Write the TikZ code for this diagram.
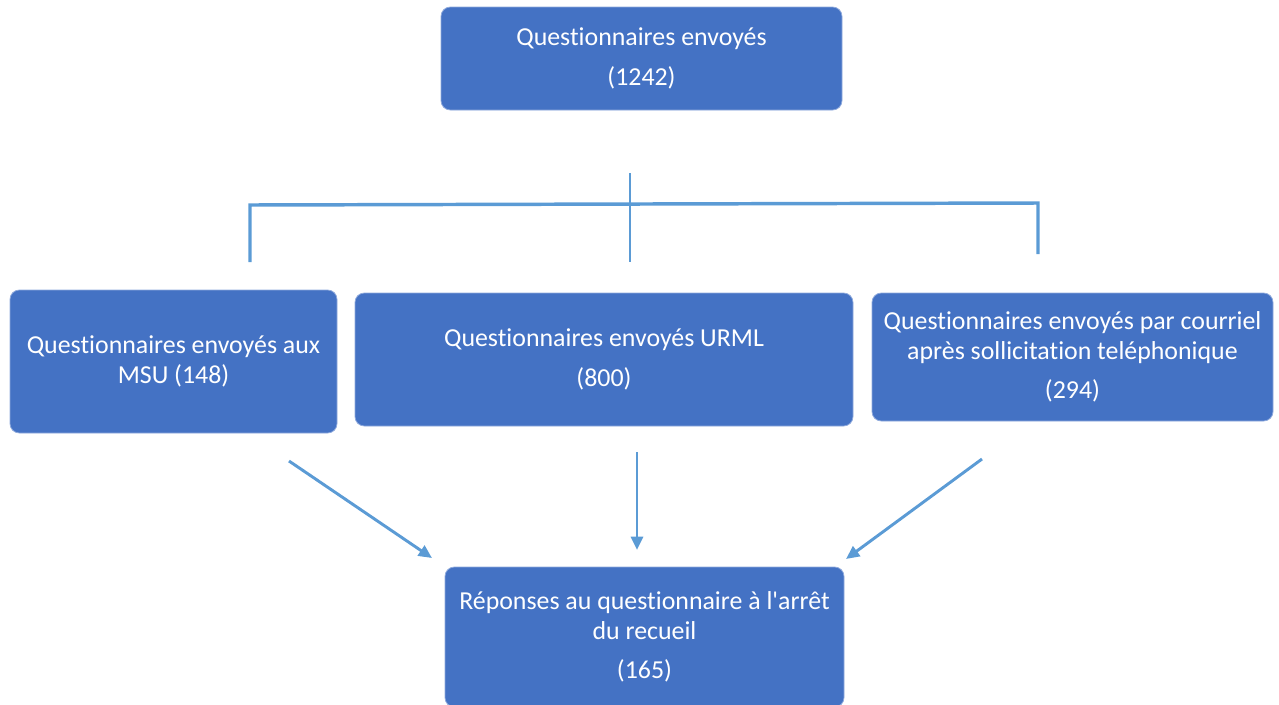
\documentclass[tikz,border=0pt]{standalone}
\usepackage{fontspec}
\setmainfont{Carlito}[Ligatures={NoCommon,TeXOff}]
\usetikzlibrary{arrows.meta}
\definecolor{boxblue}{HTML}{4472C4}
\definecolor{lineblue}{HTML}{5B9BD5}
\begin{document}
\begin{tikzpicture}[x=0.75pt,y=-0.75pt,
  box/.style={fill=boxblue, draw=boxblue!60!white, line width=0.6pt, rounded corners=7pt, text=white,
    align=center, inner sep=0pt, font=\fontsize{19.4}{22.5}\selectfont},
  link/.style={draw=lineblue, line width=2pt},
  arr/.style={draw=lineblue, line width=2.2pt, -{Triangle[length=10pt,width=9pt]}}]
\useasboundingbox (0,0) rectangle (1279,704);
\node[box, minimum width=300.75pt, minimum height=77.25pt] (top) at (641.5,58.5)
  {Questionnaires envoyés\\[7pt](1242)};
\node[box, minimum width=245.25pt, minimum height=107.25pt] (msu) at (173.5,361.5)
  {Questionnaires envoyés aux\\MSU (148)};
\node[box, minimum width=373.5pt, minimum height=99.75pt] (urml) at (604,359.5)
  {Questionnaires envoyés URML\\[8pt](800)};
\node[box, minimum width=300.75pt, minimum height=96pt] (mail) at (1072.5,357)
  {Questionnaires envoyés par courriel\\après sollicitation teléphonique\\[7pt](294)};
\node[box, minimum width=299.25pt, minimum height=105pt] (rep) at (644.5,637)
  {Réponses au questionnaire à l'arrêt\\du recueil\\[7pt](165)};
% bracket
\coordinate (ctop) at (630,173);
\coordinate (cmid) at (630,262);
\coordinate (hl) at (250,205);
\coordinate (hr) at (1038,203);
\coordinate (ll) at (250,262);
\coordinate (rl) at (1038,254);
\draw[link] (ctop) -- (cmid);
\draw[link, line width=2.6pt] (ll) -- (hl) -- (hr) -- (rl);
% arrows
\coordinate (a1s) at (289,461);
\coordinate (a1e) at (432,558);
\coordinate (a2s) at (637,452);
\coordinate (a2e) at (637,550);
\coordinate (a3s) at (982,459);
\coordinate (a3e) at (846,559);
\draw[arr] (a1s) -- (a1e);
\draw[arr] (a2s) -- (a2e);
\draw[arr] (a3s) -- (a3e);
\end{tikzpicture}
\end{document}
